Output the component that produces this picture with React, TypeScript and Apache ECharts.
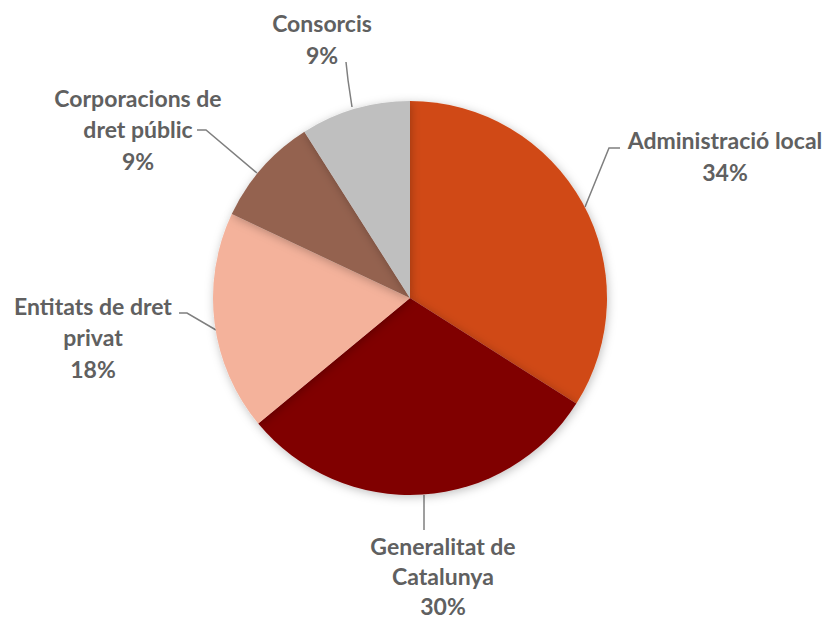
import React, { useEffect, useRef } from "react";
import * as echarts from "echarts";

const categories = [
  "Administració local",
  "Generalitat de Catalunya",
  "Entitats de dret privat",
  "Corporacions de dret públic",
  "Consorcis",
];
const shares = [34, 30, 18, 9, 9];
const colors = ["#D04A17", "#800000", "#F4B29B", "#946250", "#BFBFBF"];
const labelText = [
  "Administració local",
  "Generalitat de\nCatalunya",
  "Entitats de dret\nprivat",
  "Corporacions de\ndret públic",
  "Consorcis",
];

// label anchor (center of text block) and leader line points
const labelPos: [number, number][] = [
  [725, 156],
  [443, 576],
  [93, 337],
  [138, 129],
  [322, 39],
];
const linePts: number[][][] = [
  [[585, 207], [609, 148], [620, 148]],
  [[424, 495], [424, 512], [424, 530]],
  [[216, 330], [187, 313], [179, 313]],
  [[257, 173], [206, 130], [197, 130]],
  [[352, 107], [348, 80], [346, 62]],
];

export default function App() {
  const ref = useRef<HTMLDivElement>(null);
  useEffect(() => {
    document.body.style.margin = "0";
    const chart = echarts.init(ref.current!, null, { renderer: "svg" });
    chart.setOption({
      animation: false,
      backgroundColor: "#ffffff",
      series: [
        {
          type: "pie",
          center: [410, 298],
          radius: 197,
          startAngle: 90,
          clockwise: true,
          data: categories.map((c, i) => ({
            name: c,
            value: shares[i],
            itemStyle: { color: colors[i] },
            label: i === 1 ? { lineHeight: 30 } : undefined,
          })),
          itemStyle: {
            borderWidth: 0,
            shadowBlur: 10,
            shadowColor: "rgba(0,0,0,0.25)",
            shadowOffsetX: 1,
            shadowOffsetY: 2,
          },
          label: {
            show: true,
            formatter: (p: any) => `${labelText[p.dataIndex]}\n${Math.round(p.percent)}%`,
            fontFamily: "Lato, sans-serif",
            fontWeight: "bold",
            fontSize: 23,
            lineHeight: 31.5,
            color: "#606060",
            align: "center",
            overflow: "none",
            width: 300,
          },
          labelLine: {
            show: true,
            lineStyle: { color: "#7F7F7F", width: 1.5 },
          },
          labelLayout: (p: any) => {
            const i = p.dataIndex;
            return {
              x: labelPos[i][0],
              y: labelPos[i][1],
              align: "center",
              verticalAlign: "middle",
              labelLinePoints: linePts[i],
            };
          },
        },
      ],
    });
    return () => chart.dispose();
  }, []);
  return <div ref={ref} style={{ width: 827, height: 621 }} />;
}
